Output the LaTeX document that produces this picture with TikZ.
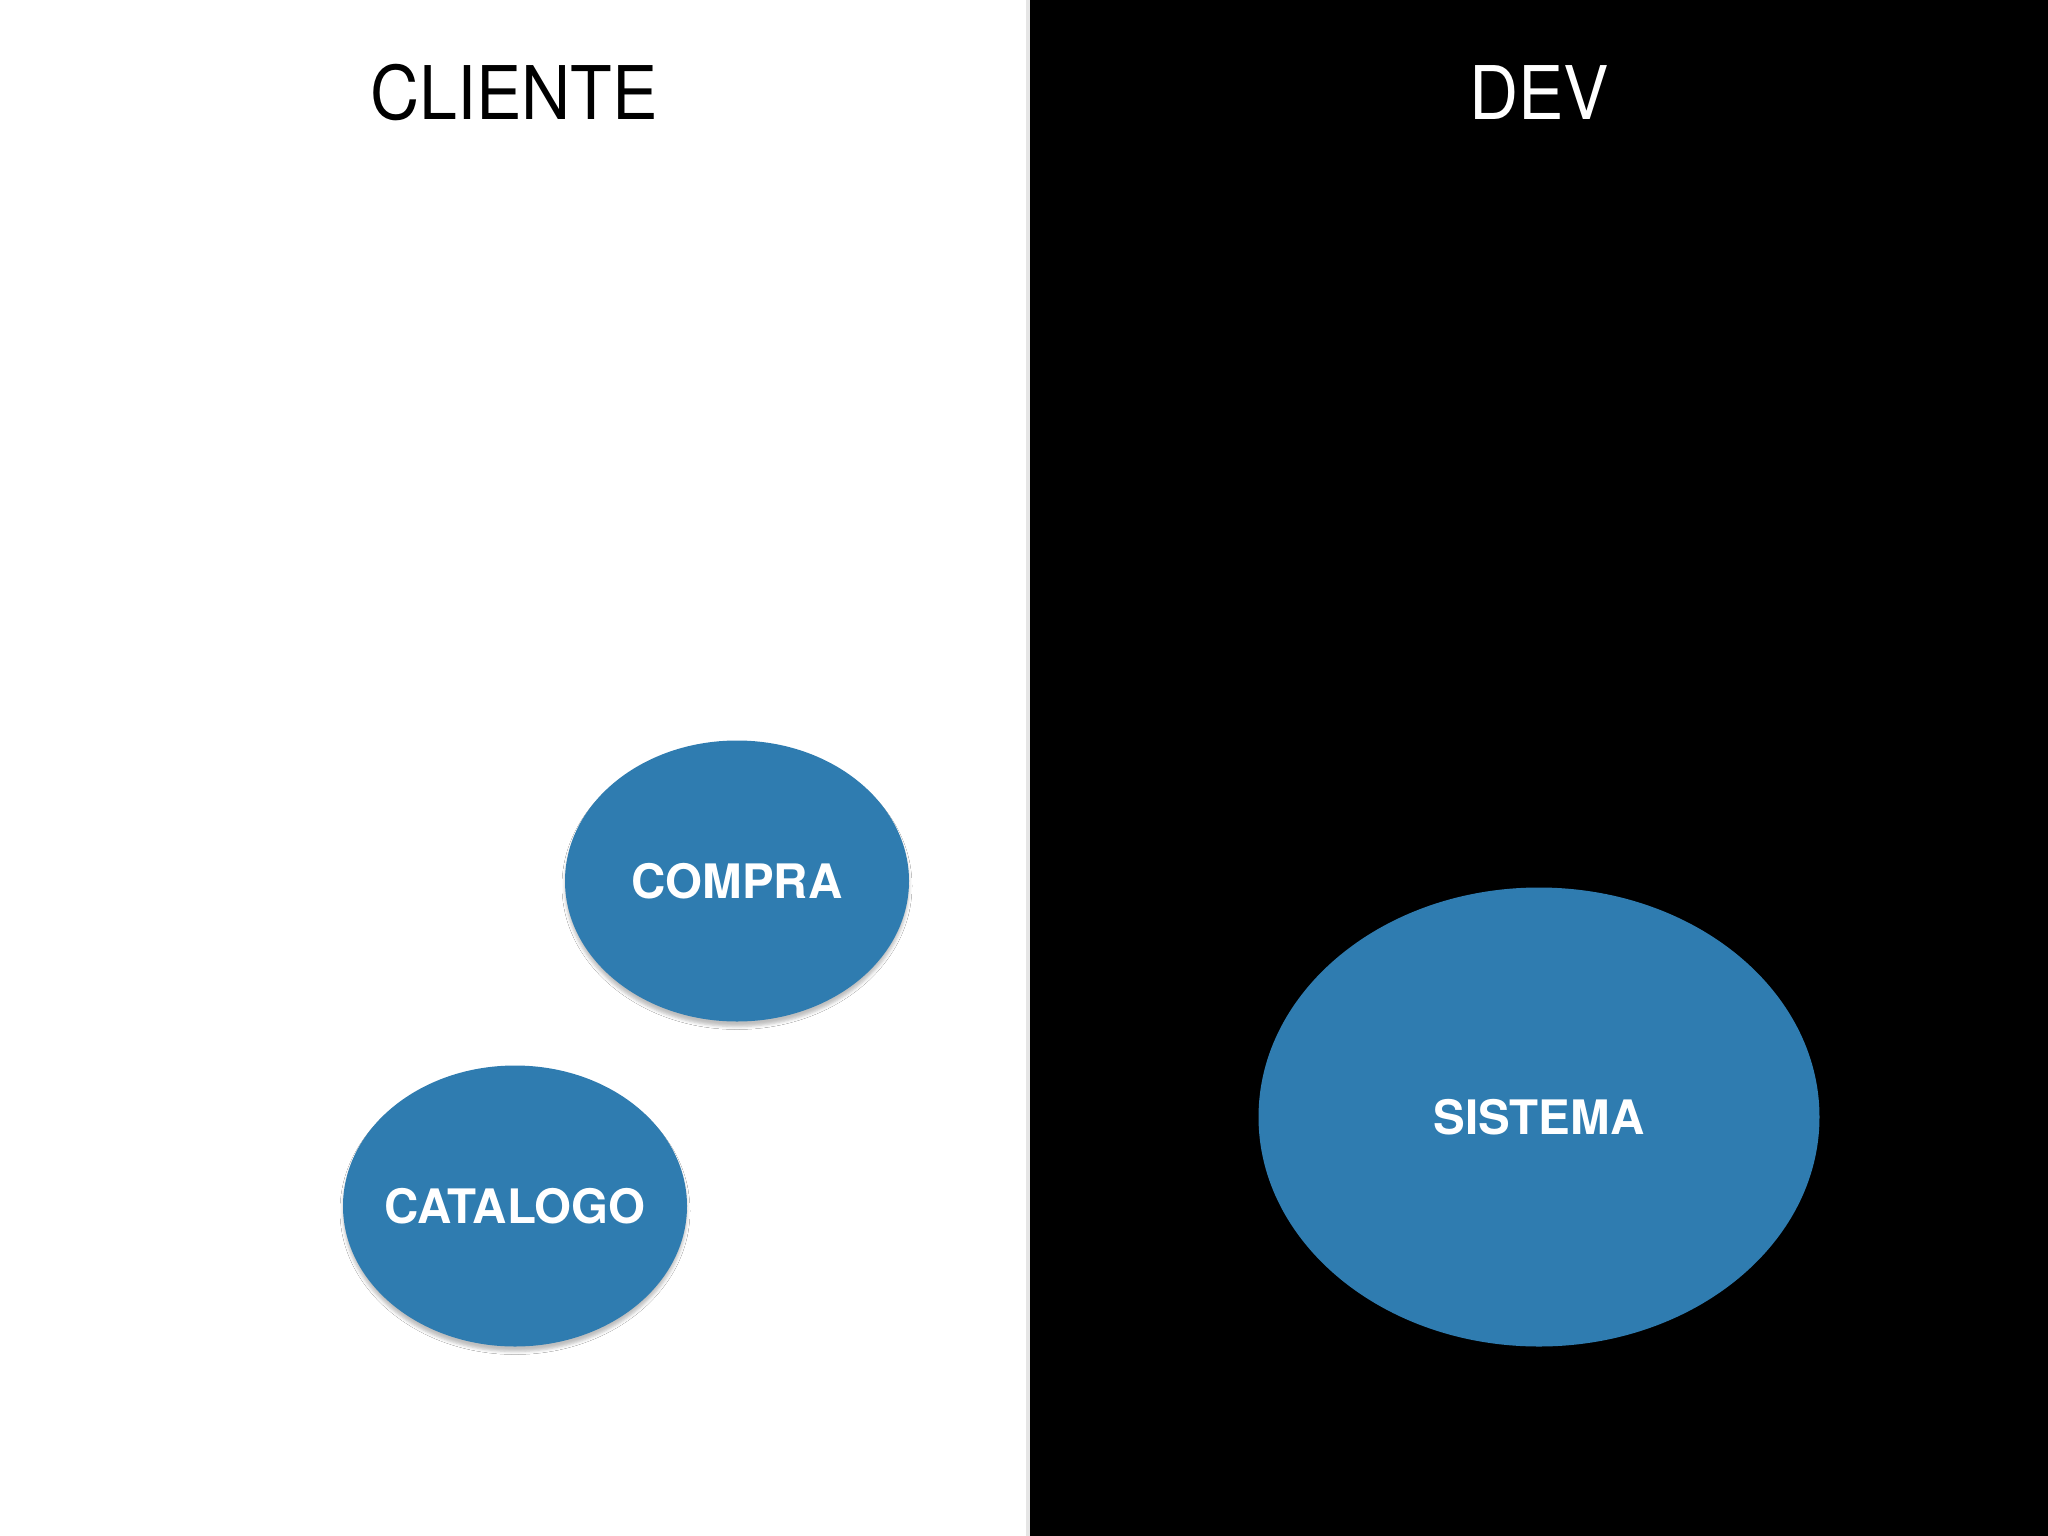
\documentclass[tikz,border=0pt]{standalone}
\usepackage{fontspec}
\setmainfont{TeX Gyre Heros}
\usetikzlibrary{shapes.geometric,shadows.blur}
\definecolor{bubble}{RGB}{47,124,176}
\tikzset{
  title/.style={font=\fontsize{74}{80}\selectfont, anchor=center, xscale=0.92},
  bubble/.style={ellipse, fill=bubble, inner ysep=0pt, inner xsep=-80pt, text=white,
    font=\fontsize{47.5}{50}\selectfont\bfseries,
    blur shadow={shadow xshift=0pt, shadow yshift=-5pt, shadow blur radius=3pt, shadow opacity=25}}
}
\begin{document}
\begin{tikzpicture}[x=1pt,y=-1pt]
  \useasboundingbox (0,0) rectangle (2048,1536);
  \fill[white] (0,0) rectangle (2048,1536);
  \fill[black!10] (1026,0) rectangle (1030,1536);
  \fill[black] (1030,0) rectangle (2048,1536);
  \node[title, text=black] (cliente) at (514,93) {CLIENTE};
  \node[title, text=white] (dev) at (1539,93) {DEV};
  \node[bubble, minimum width=344pt, minimum height=281pt] (compra) at (737,881) {COMPRA};
  \node[bubble, minimum width=344pt, minimum height=281pt] (catalogo) at (515,1206) {CATALOGO};
  \node[bubble, minimum width=561pt, minimum height=459pt] (sistema) at (1539,1117) {SISTEMA};
\end{tikzpicture}
\end{document}
